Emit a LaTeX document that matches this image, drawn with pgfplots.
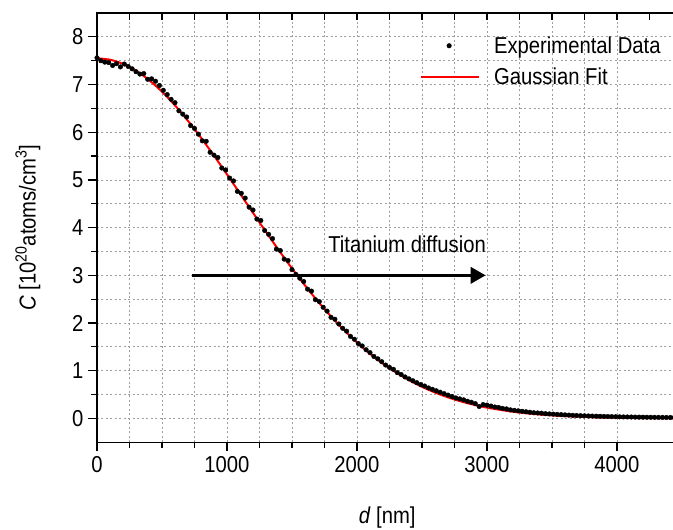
\documentclass[border=0pt]{standalone}
\usepackage{fontspec}
\setmainfont{Liberation Sans}[FakeStretch=0.88]
\usepackage{pgfplots}
\pgfplotsset{compat=1.18}
\usetikzlibrary{calc,arrows.meta}
\newcommand{\fs}{\fontsize{23}{27}\selectfont}
\pgfplotsset{
  datalegend/.style={legend image code/.code={\draw[mark repeat=2,mark phase=2,##1] plot coordinates {(0pt,0pt) (28pt,0pt) (56pt,0pt)};}},
  fitlegend/.style={legend image code/.code={\draw[##1] (0pt,0pt) -- (58pt,0pt);}},
}
\begin{document}
\begin{tikzpicture}
\begin{axis}[name=ax, scale only axis, width=585pt, height=429.3pt,
  xmin=0, xmax=4500, ymin=-0.5, ymax=8.5,
  xtick={0,1000,2000,3000,4000}, ytick={0,1,...,8},
  minor x tick num=3, minor y tick num=1,
  xtick pos=lower, ytick pos=left,
  tick align=outside, major tick length=9pt, minor tick length=6pt,
  every tick/.style={black, line width=1.2pt},
  axis line style={line width=1.3pt},
  grid=both,
  major grid style={gray!75, line width=0.8pt, dash pattern=on 2pt off 2.5pt},
  minor grid style={gray!75, line width=0.8pt, dash pattern=on 2pt off 2.5pt},
  tick label style={font=\fs},
  /pgf/number format/assume math mode=true,
  /pgf/number format/1000 sep={},
  xticklabel style={yshift=-2pt},
  yticklabel style={xshift=-1pt},
  xlabel={\textit{d} [nm]},
  ylabel={\textit{C} [10\textsuperscript{20}atoms/cm\textsuperscript{3}]},
  every axis x label/.style={at={(axis description cs:0.496,-0.175)}, anchor=center, font=\fs},
  every axis y label/.style={at={(axis description cs:-0.118,0.5)}, anchor=center, rotate=90, font=\fs},
  legend style={draw=none, fill=none, at={(axis description cs:0.552,0.950)}, anchor=north west,
    font=\fs, row sep=9pt, column sep=12pt, inner sep=0pt, nodes={inner sep=2pt}},
  legend cell align=left,
]
\addplot[only marks, mark=*, mark size=2.3pt, black, datalegend]
coordinates {
(0,7.56)(30,7.50)(60,7.47)(90,7.46)(120,7.40)(150,7.44)(180,7.37)(210,7.43)(240,7.38)(270,7.33)
(300,7.27)(330,7.22)(360,7.23)(390,7.11)(420,7.12)(450,7.07)(480,6.98)(510,6.88)(540,6.79)(570,6.69)
(600,6.62)(630,6.45)(660,6.38)(690,6.32)(720,6.14)(750,6.08)(780,5.96)(810,5.82)(840,5.81)(870,5.58)
(900,5.52)(930,5.47)(960,5.25)(990,5.21)(1020,5.04)(1050,4.98)(1080,4.76)(1110,4.72)(1140,4.62)(1170,4.43)
(1200,4.37)(1230,4.18)(1260,4.15)(1290,3.94)(1320,3.86)(1350,3.77)(1380,3.55)(1410,3.52)(1440,3.34)(1470,3.31)
(1500,3.12)(1530,3.02)(1560,2.94)(1590,2.87)(1620,2.71)(1650,2.67)(1680,2.49)(1710,2.45)(1740,2.33)(1770,2.25)
(1800,2.12)(1830,2.08)(1860,1.98)(1890,1.89)(1920,1.83)(1950,1.72)(1980,1.66)(2010,1.57)(2040,1.52)(2070,1.44)
(2100,1.38)(2130,1.30)(2160,1.25)(2190,1.19)(2220,1.12)(2250,1.07)(2280,1.03)(2310,0.96)(2340,0.92)(2370,0.87)
(2400,0.83)(2430,0.79)(2460,0.75)(2490,0.71)(2520,0.68)(2550,0.64)(2580,0.61)(2610,0.58)(2640,0.55)(2670,0.52)
(2700,0.49)(2730,0.46)(2760,0.43)(2790,0.41)(2820,0.39)(2850,0.36)(2880,0.34)(2910,0.31)(2940,0.25)(2970,0.29)
(3000,0.28)(3030,0.26)(3060,0.24)(3090,0.23)(3120,0.21)(3150,0.20)(3180,0.18)(3210,0.17)(3240,0.16)(3270,0.15)
(3300,0.14)(3330,0.13)(3360,0.12)(3390,0.115)(3420,0.11)(3450,0.10)(3480,0.095)(3510,0.09)(3540,0.085)(3570,0.08)
(3600,0.075)(3630,0.07)(3660,0.065)(3690,0.062)(3720,0.058)(3750,0.055)(3780,0.052)(3810,0.05)(3840,0.047)(3870,0.045)
(3900,0.042)(3930,0.04)(3960,0.038)(3990,0.036)(4020,0.034)(4050,0.032)(4080,0.031)(4110,0.03)(4140,0.028)(4170,0.027)
(4200,0.026)(4230,0.025)(4260,0.024)(4290,0.023)(4320,0.022)(4350,0.021)(4380,0.02)(4410,0.02)(4440,0.019)
};
\addlegendentry{Experimental Data}
\addplot[red, line width=2pt, smooth, no marks, fitlegend]
coordinates {
(0,7.550)(100,7.521)(200,7.433)(300,7.290)(400,7.094)(500,6.850)(600,6.563)(700,6.239)(800,5.885)(900,5.509)
(1000,5.116)(1100,4.715)(1200,4.311)(1300,3.911)(1400,3.521)(1500,3.145)(1600,2.788)(1700,2.452)(1800,2.140)(1900,1.853)
(2000,1.592)(2100,1.357)(2200,1.148)(2300,0.964)(2400,0.803)(2500,0.663)(2600,0.544)(2700,0.442)(2800,0.357)(2900,0.286)
(3000,0.227)(3200,0.140)(3400,0.084)(3600,0.049)(3800,0.027)(4000,0.015)(4200,0.008)(4500,0.003)
};
\addlegendentry{Gaussian Fit}
\draw[black, line width=3.5pt, -{Triangle[length=15pt,width=16pt]}] (axis cs:730,3) -- (axis cs:2990,3);
\node[font=\fs] at (axis cs:2385,3.66) {Titanium diffusion};
\end{axis}
\begin{axis}[scale only axis, width=585pt, height=429.3pt,
  xmin=0, xmax=4500, ymin=-0.5, ymax=8.5,
  xtick={0,250,...,4500}, xticklabels={}, ytick=\empty,
  xtick pos=upper, tick align=inside, major tick length=7pt,
  every tick/.style={black, line width=1.2pt},
  axis line style={line width=1.3pt}]
\end{axis}
\pgfresetboundingbox
\path[use as bounding box] ($(ax.south west)+(-97pt,-87pt)$) rectangle ($(ax.south west)+(576pt,442.3pt)$);
\end{tikzpicture}
\end{document}
